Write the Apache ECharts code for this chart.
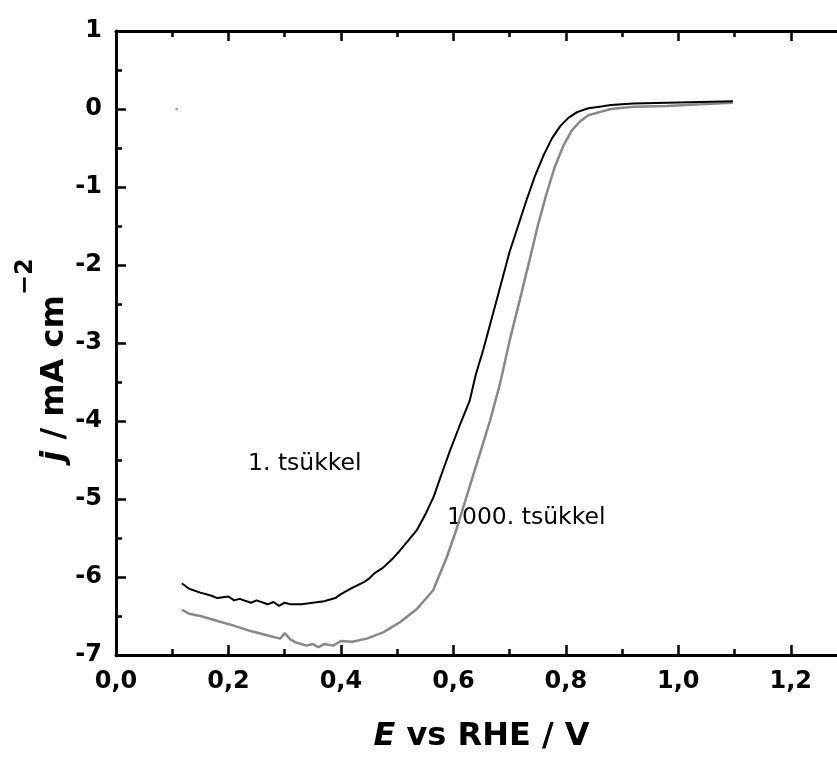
<!DOCTYPE html>
<html>
<head>
<meta charset="utf-8">
<script src="https://cdn.jsdelivr.net/npm/echarts@6/dist/echarts.min.js"></script>
<style>
html,body{margin:0;padding:0;background:#fff;}
#chart{width:837px;height:758px;}
</style>
</head>
<body>
<div id="chart"></div>
<script>
// ---- data ----
var xTickLabels = ['0,0','0,2','0,4','0,6','0,8','1,0','1,2'];
var yTickLabels = ['-7','-6','-5','-4','-3','-2','-1','0','1'];

var cycle1X = [0.117,0.13,0.15,0.17,0.18,0.20,0.21,0.22,0.24,0.25,0.27,0.28,0.29,0.30,0.31,0.33,0.35,0.37,0.39,0.40,0.42,0.44,0.45,0.46,0.475,0.49,0.505,0.52,0.535,0.55,0.565,0.58,0.594,0.61,0.629,0.64,0.653,0.665,0.677,0.69,0.70,0.715,0.73,0.745,0.76,0.775,0.79,0.805,0.82,0.84,0.86,0.88,0.92,0.98,1.04,1.097];
var cycle1Y = [-6.08,-6.15,-6.20,-6.24,-6.27,-6.25,-6.30,-6.28,-6.33,-6.30,-6.35,-6.32,-6.37,-6.33,-6.35,-6.35,-6.33,-6.31,-6.27,-6.22,-6.14,-6.07,-6.02,-5.95,-5.88,-5.78,-5.66,-5.53,-5.40,-5.20,-4.97,-4.66,-4.38,-4.08,-3.74,-3.40,-3.09,-2.77,-2.45,-2.10,-1.83,-1.50,-1.17,-0.86,-0.60,-0.38,-0.22,-0.11,-0.04,0.01,0.03,0.05,0.07,0.08,0.09,0.10];

var cycle1000X = [0.117,0.13,0.15,0.179,0.208,0.238,0.265,0.292,0.30,0.31,0.32,0.339,0.35,0.36,0.37,0.386,0.40,0.42,0.446,0.475,0.505,0.535,0.564,0.588,0.605,0.623,0.635,0.647,0.665,0.683,0.700,0.718,0.735,0.75,0.765,0.78,0.795,0.81,0.825,0.84,0.86,0.88,0.92,0.98,1.04,1.097];
var cycle1000Y = [-6.42,-6.47,-6.50,-6.56,-6.62,-6.69,-6.74,-6.79,-6.72,-6.80,-6.84,-6.88,-6.86,-6.90,-6.86,-6.88,-6.82,-6.83,-6.79,-6.71,-6.58,-6.41,-6.17,-5.75,-5.40,-4.98,-4.70,-4.42,-4.00,-3.52,-2.97,-2.45,-1.95,-1.50,-1.10,-0.75,-0.48,-0.28,-0.16,-0.08,-0.04,0.00,0.03,0.04,0.06,0.08];

var strayX = [0.108];
var strayY = [0.0];

var seriesNames = ['1. tsükkel','1000. tsükkel'];

// ---- build ----
function zip(xs, ys){ var out=[]; for(var i=0;i<xs.length;i++){ out.push([xs[i], ys[i]]); } return out; }

var FONT = 'DejaVu Sans';
var tickStyle = {color:'#000', width:2.5};
function xAxisDef(pos, showLabels){
  return {
    type:'value', position:pos, min:0, max:1.3, interval:0.2,
    axisLine:{show:true, onZero:false, lineStyle:{color:'#000', width:3}},
    axisTick:{show:true, inside:true, length:10, lineStyle:tickStyle},
    minorTick:{show:true, splitNumber:2, length:6, lineStyle:tickStyle},
    splitLine:{show:false}, minorSplitLine:{show:false},
    axisLabel:{show:showLabels, showMaxLabel:false, margin:15, color:'#000', fontFamily:FONT, fontWeight:'bold', fontSize:24,
      formatter:function(v){ var i=Math.round(v/0.2); return xTickLabels[i]!==undefined && Math.abs(v-i*0.2)<1e-6 ? xTickLabels[i] : ''; }}
  };
}
function yAxisDef(pos, showLabels, showLine){
  return {
    type:'value', position:pos, min:-7, max:1, interval:1,
    axisLine:{show:showLine, onZero:false, lineStyle:{color:'#000', width:3}},
    axisTick:{show:true, inside:true, length:10, lineStyle:tickStyle},
    minorTick:{show:true, splitNumber:2, length:6, lineStyle:tickStyle},
    splitLine:{show:false}, minorSplitLine:{show:false},
    axisLabel:{show:showLabels, margin:14, color:'#000', fontFamily:FONT, fontWeight:'bold', fontSize:24,
      formatter:function(v){ var i=Math.round(v+7); return yTickLabels[i]; }}
  };
}

var xBottom = xAxisDef('bottom', true);
xBottom.name = '{e|E} vs RHE / V';
xBottom.nameLocation = 'middle';
xBottom.nameGap = 66;
xBottom.nameTextStyle = {color:'#000', fontFamily:FONT, fontWeight:'bold', fontSize:32,
  rich:{e:{color:'#000', fontFamily:FONT, fontWeight:'bold', fontStyle:'italic', fontSize:32}}};

var yLeft = yAxisDef('left', true, true);
yLeft.name = '{j|j} {m|/ mA cm}{sup|−2}';
yLeft.nameLocation = 'middle';
yLeft.nameRotate = 90;
yLeft.nameGap = 20;
yLeft.nameMoveOverlap = false;
yLeft.nameTextStyle = {color:'#000', fontFamily:FONT, fontWeight:'bold', fontSize:32, lineHeight:82, padding:[0,34,0,0],
  rich:{
    j:{color:'#000', fontFamily:FONT, fontWeight:'bold', fontStyle:'italic', fontSize:32, lineHeight:82},
    m:{color:'#000', fontFamily:FONT, fontWeight:'bold', fontSize:32, lineHeight:82},
    sup:{color:'#000', fontFamily:FONT, fontWeight:'bold', fontSize:24, lineHeight:24, verticalAlign:'top'}
  }};

var chart = echarts.init(document.getElementById('chart'), null, {renderer:'canvas'});
chart.setOption({
  animation:false,
  backgroundColor:'#fff',
  grid:{left:116, top:31, right:-10, bottom:103, containLabel:false, outerBoundsMode:'none'},
  xAxis:[xBottom, xAxisDef('top', false)],
  yAxis:[yLeft, yAxisDef('right', false, false)],
  series:[
    {name:seriesNames[1], type:'line', xAxisIndex:0, yAxisIndex:0, data:zip(cycle1000X, cycle1000Y), showSymbol:false,
     lineStyle:{color:'#888888', width:2.5}, z:2},
    {name:seriesNames[0], type:'line', xAxisIndex:0, yAxisIndex:0, data:zip(cycle1X, cycle1Y), showSymbol:false,
     lineStyle:{color:'#000000', width:2}, z:3},
    {type:'scatter', xAxisIndex:0, yAxisIndex:0, data:zip(strayX, strayY), symbolSize:3,
     itemStyle:{color:'#999999'}}
  ],
  graphic:[
    {type:'text', left:248, top:452, style:{text:seriesNames[0], fill:'#000', font:'23.5px "DejaVu Sans"'}},
    {type:'text', left:447, top:506, style:{text:seriesNames[1], fill:'#000', font:'23.5px "DejaVu Sans"'}}
  ]
});
</script>
</body>
</html>
